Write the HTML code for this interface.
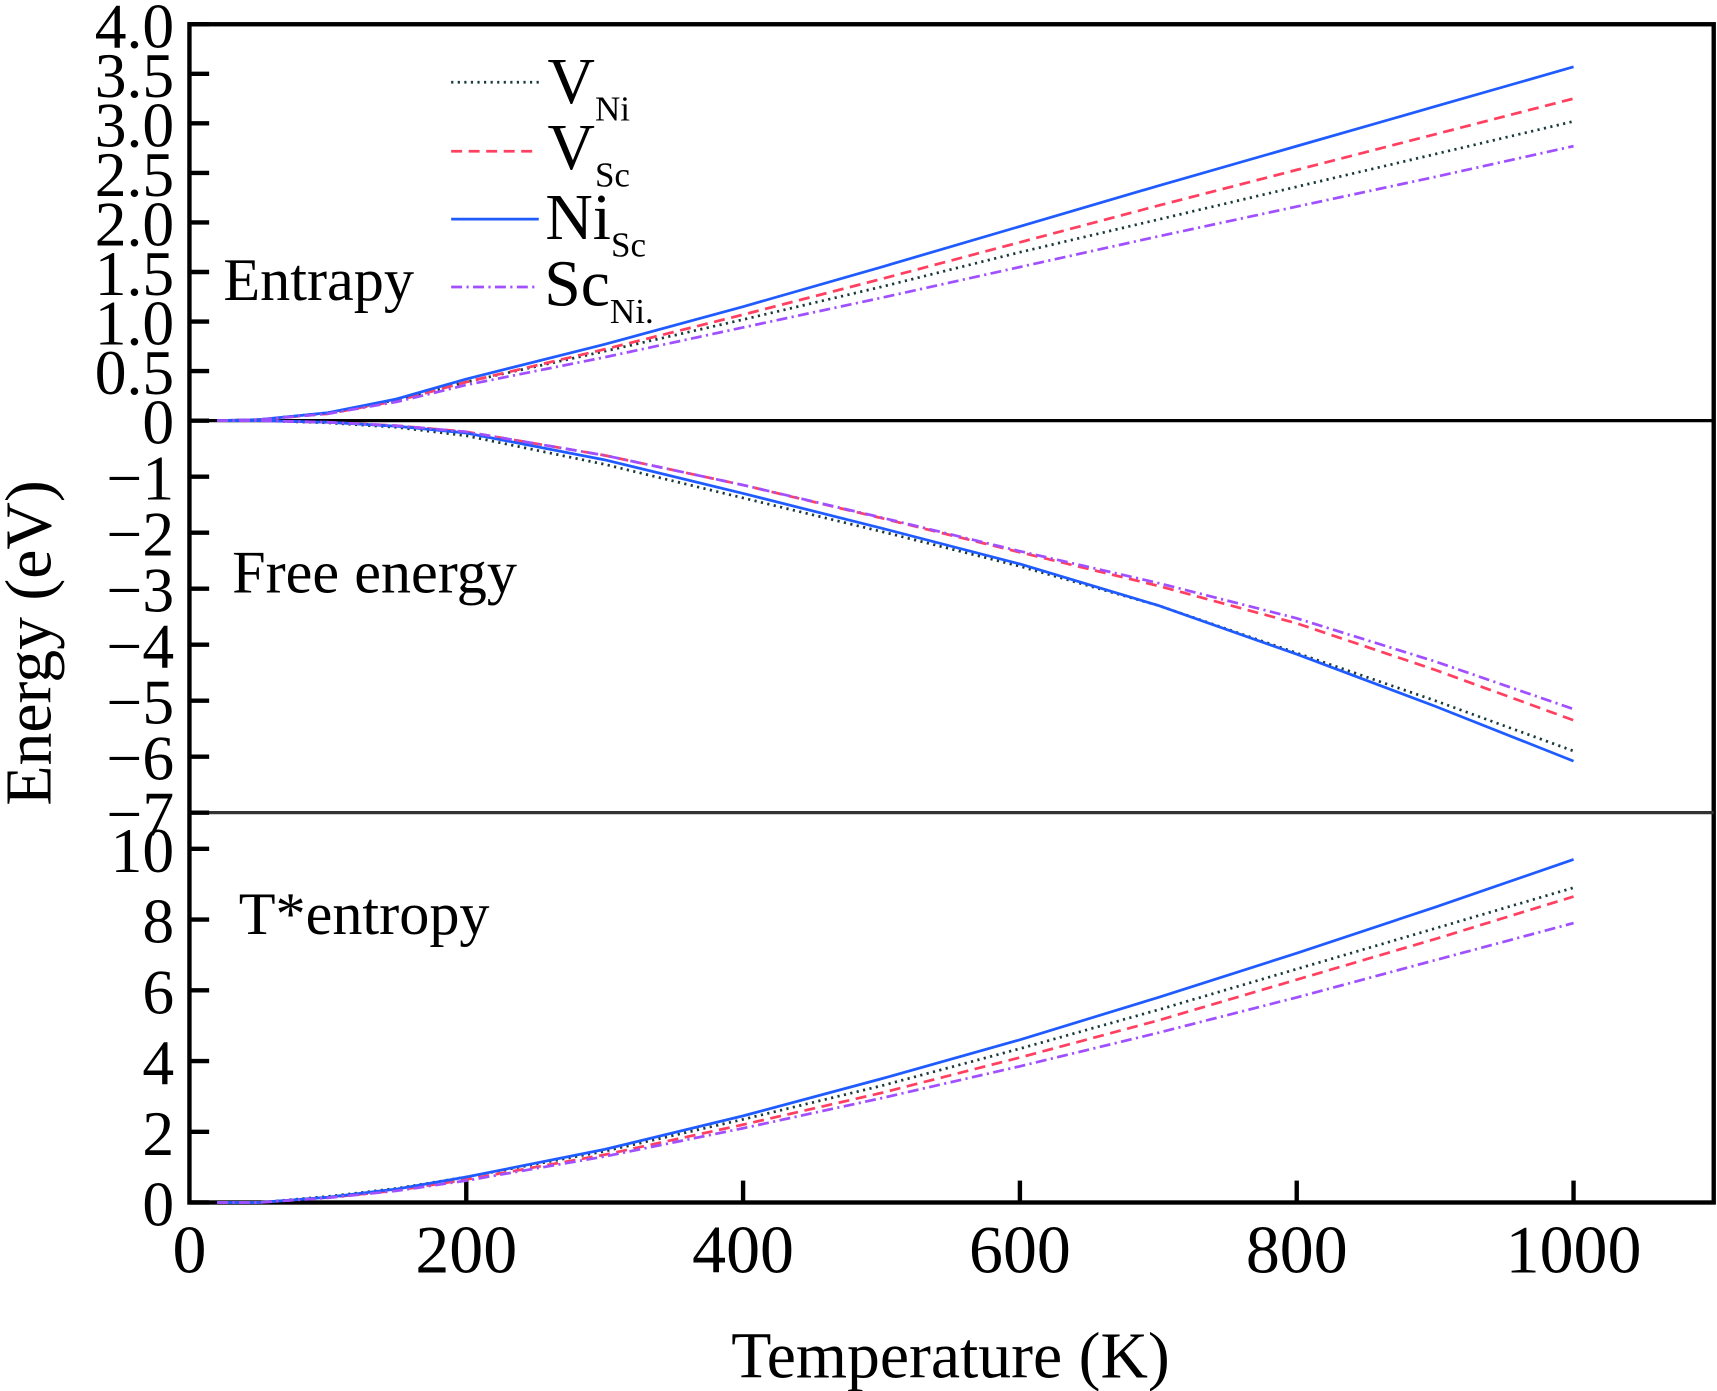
<!DOCTYPE html>
<html><head><meta charset="utf-8"><style>
html,body{margin:0;padding:0;background:#fff;}
svg{display:block;}
text{font-family:"Liberation Serif",serif;fill:#000;}
</style></head><body>
<svg id="chart" width="1717" height="1391" viewBox="0 0 1568 1270" xmlns="http://www.w3.org/2000/svg">
<g id="frame"></g>
<g id="marks"></g>
<g id="labels"></g>
<text x="0" y="0" font-size="60" text-anchor="middle" transform="translate(46,587) rotate(-90)">Energy (eV)</text>
<text x="868" y="1258" font-size="60" text-anchor="middle">Temperature (K)</text>
<text x="204" y="274" font-size="55">Entrapy</text>
<text x="212" y="541" font-size="55">Free energy</text>
<text x="218" y="853" font-size="55">T*entropy</text>
<g>
<line x1="412" y1="75" x2="492" y2="75" stroke="#1a3a3a" stroke-width="2.5" stroke-dasharray="2,4"/>
<text x="500" y="94" font-size="60">V<tspan font-size="32" dy="16">Ni</tspan></text>
<line x1="412" y1="138" x2="492" y2="138" stroke="#ff4060" stroke-width="2.5" stroke-dasharray="10,6"/>
<text x="500" y="154" font-size="60">V<tspan font-size="32" dy="16">Sc</tspan></text>
<line x1="412" y1="200" x2="492" y2="200" stroke="#1f5bff" stroke-width="2.5"/>
<text x="498" y="218" font-size="60">Ni<tspan font-size="32" dy="16">Sc</tspan></text>
<line x1="412" y1="262" x2="492" y2="262" stroke="#a050ff" stroke-width="2.5" stroke-dasharray="10,4,2,4"/>
<text x="497" y="279" font-size="60">Sc<tspan font-size="32" dy="16">Ni.</tspan></text>
</g>
</svg>
<script>
const temps = [20,50,100,150,200,300,400,500,600,700,800,900,1000];
const entVNi  = [0,0.01,0.08,0.21,0.39,0.70,1.02,1.35,1.70,2.03,2.36,2.69,3.02];
const entVSc  = [0,0.01,0.07,0.20,0.39,0.72,1.07,1.43,1.80,2.17,2.53,2.89,3.25];
const entNiSc = [0,0.01,0.08,0.22,0.42,0.77,1.15,1.55,1.96,2.37,2.77,3.17,3.57];
const entScNi = [0,0.01,0.07,0.19,0.36,0.64,0.94,1.24,1.55,1.86,2.16,2.46,2.77];
const feVNi  = [0,0,-0.04,-0.12,-0.27,-0.78,-1.38,-1.98,-2.60,-3.30,-4.15,-5.00,-5.90];
const feVSc  = [0,0,-0.03,-0.09,-0.20,-0.62,-1.15,-1.74,-2.35,-2.95,-3.62,-4.45,-5.35];
const feNiSc = [0,0,-0.03,-0.10,-0.22,-0.70,-1.30,-1.92,-2.56,-3.30,-4.17,-5.10,-6.08];
const feScNi = [0,0,-0.03,-0.09,-0.20,-0.62,-1.15,-1.73,-2.33,-2.90,-3.53,-4.30,-5.15];
const tsVNi  = [0,0,0.17,0.40,0.72,1.45,2.35,3.30,4.35,5.45,6.60,7.75,8.90];
const tsVSc  = [0,0,0.14,0.34,0.65,1.35,2.20,3.10,4.10,5.15,6.30,7.45,8.65];
const tsNiSc = [0,0,0.15,0.38,0.72,1.50,2.45,3.50,4.60,5.80,7.05,8.35,9.70];
const tsScNi = [0,0,0.13,0.33,0.62,1.30,2.10,2.95,3.85,4.80,5.80,6.85,7.90];
const xTicks = [0,200,400,600,800,1000];
const entTicks = [0,0.5,1.0,1.5,2.0,2.5,3.0,3.5,4.0];
const feTicks = [0,-1,-2,-3,-4,-5,-6,-7];
const tsTicks = [0,2,4,6,8,10];

const NS="http://www.w3.org/2000/svg";
const L=173,R=1565,T0=22,B=1098;
const xS=v=>L+v*(1437-L)/1000;
const yEnt=v=>384-v*(384-22)/4;
const yFe=v=>384+(-v)*(742-384)/7;
const yTs=v=>1098-v*(1098-775)/10;
function mk(tag,attrs,parent){const e=document.createElementNS(NS,tag);for(const k in attrs)e.setAttribute(k,attrs[k]);parent.appendChild(e);return e;}
const frame=document.getElementById('frame'),marks=document.getElementById('marks'),labels=document.getElementById('labels');
let e;
e=mk('rect',{x:L,y:T0,width:R-L,height:B-T0,fill:'none',stroke:'#000','stroke-width':4},frame);


e=mk('line',{x1:L,y1:384,x2:R,y2:384,stroke:'#000','stroke-width':3},frame);


e=mk('line',{x1:L,y1:742,x2:R,y2:742,stroke:'#333','stroke-width':3},frame);


function yTickSet(ticks,fy,name,fmt){ticks.forEach(v=>{const y=fy(v);
 e=mk('line',{x1:L,y1:y,x2:L+18,y2:y,stroke:'#000','stroke-width':4},frame);
 
 
 e=mk('text',{x:L-14,y:y+21,'font-size':58,'text-anchor':'end'},labels);
 e.textContent=fmt(v);
 
 });}
yTickSet(entTicks,yEnt,'entropy-y',v=>v===0?'0':v.toFixed(1));
yTickSet(feTicks.filter(v=>v!==0),yFe,'free-energy-y',v=>'\u2212'+Math.abs(v));
yTickSet(tsTicks,yTs,'t-entropy-y',v=>String(v));
xTicks.forEach(v=>{const x=xS(v);
 if(v>0){e=mk('line',{x1:x,y1:B,x2:x,y2:B-20,stroke:'#000','stroke-width':4},frame);
 
 }
 e=mk('text',{x:x,y:1162,'font-size':62,'text-anchor':'middle'},labels);
 e.textContent=String(v);
 
 });
const styles={VNi:{c:'#1a3a3a',d:'2,4'},VSc:{c:'#ff4060',d:'10,6'},NiSc:{c:'#1f5bff',d:''},ScNi:{c:'#a050ff',d:'10,4,2,4'}};
function line(vals,fy,key,name){const pts=temps.map((t,i)=>xS(t).toFixed(1)+','+fy(vals[i]).toFixed(1)).join(' ');
 const a={points:pts,fill:'none',stroke:styles[key].c,'stroke-width':2.5};if(styles[key].d)a['stroke-dasharray']=styles[key].d;
 e=mk('polyline',a,marks);
 
 }
line(entVNi,yEnt,'VNi','entropy-vni-line');line(entVSc,yEnt,'VSc','entropy-vsc-line');line(entNiSc,yEnt,'NiSc','entropy-nisc-line');line(entScNi,yEnt,'ScNi','entropy-scni-line');
line(feVNi,yFe,'VNi','free-energy-vni-line');line(feVSc,yFe,'VSc','free-energy-vsc-line');line(feNiSc,yFe,'NiSc','free-energy-nisc-line');line(feScNi,yFe,'ScNi','free-energy-scni-line');
line(tsVNi,yTs,'VNi','t-entropy-vni-line');line(tsVSc,yTs,'VSc','t-entropy-vsc-line');line(tsNiSc,yTs,'NiSc','t-entropy-nisc-line');line(tsScNi,yTs,'ScNi','t-entropy-scni-line');
</script>
</body></html>
